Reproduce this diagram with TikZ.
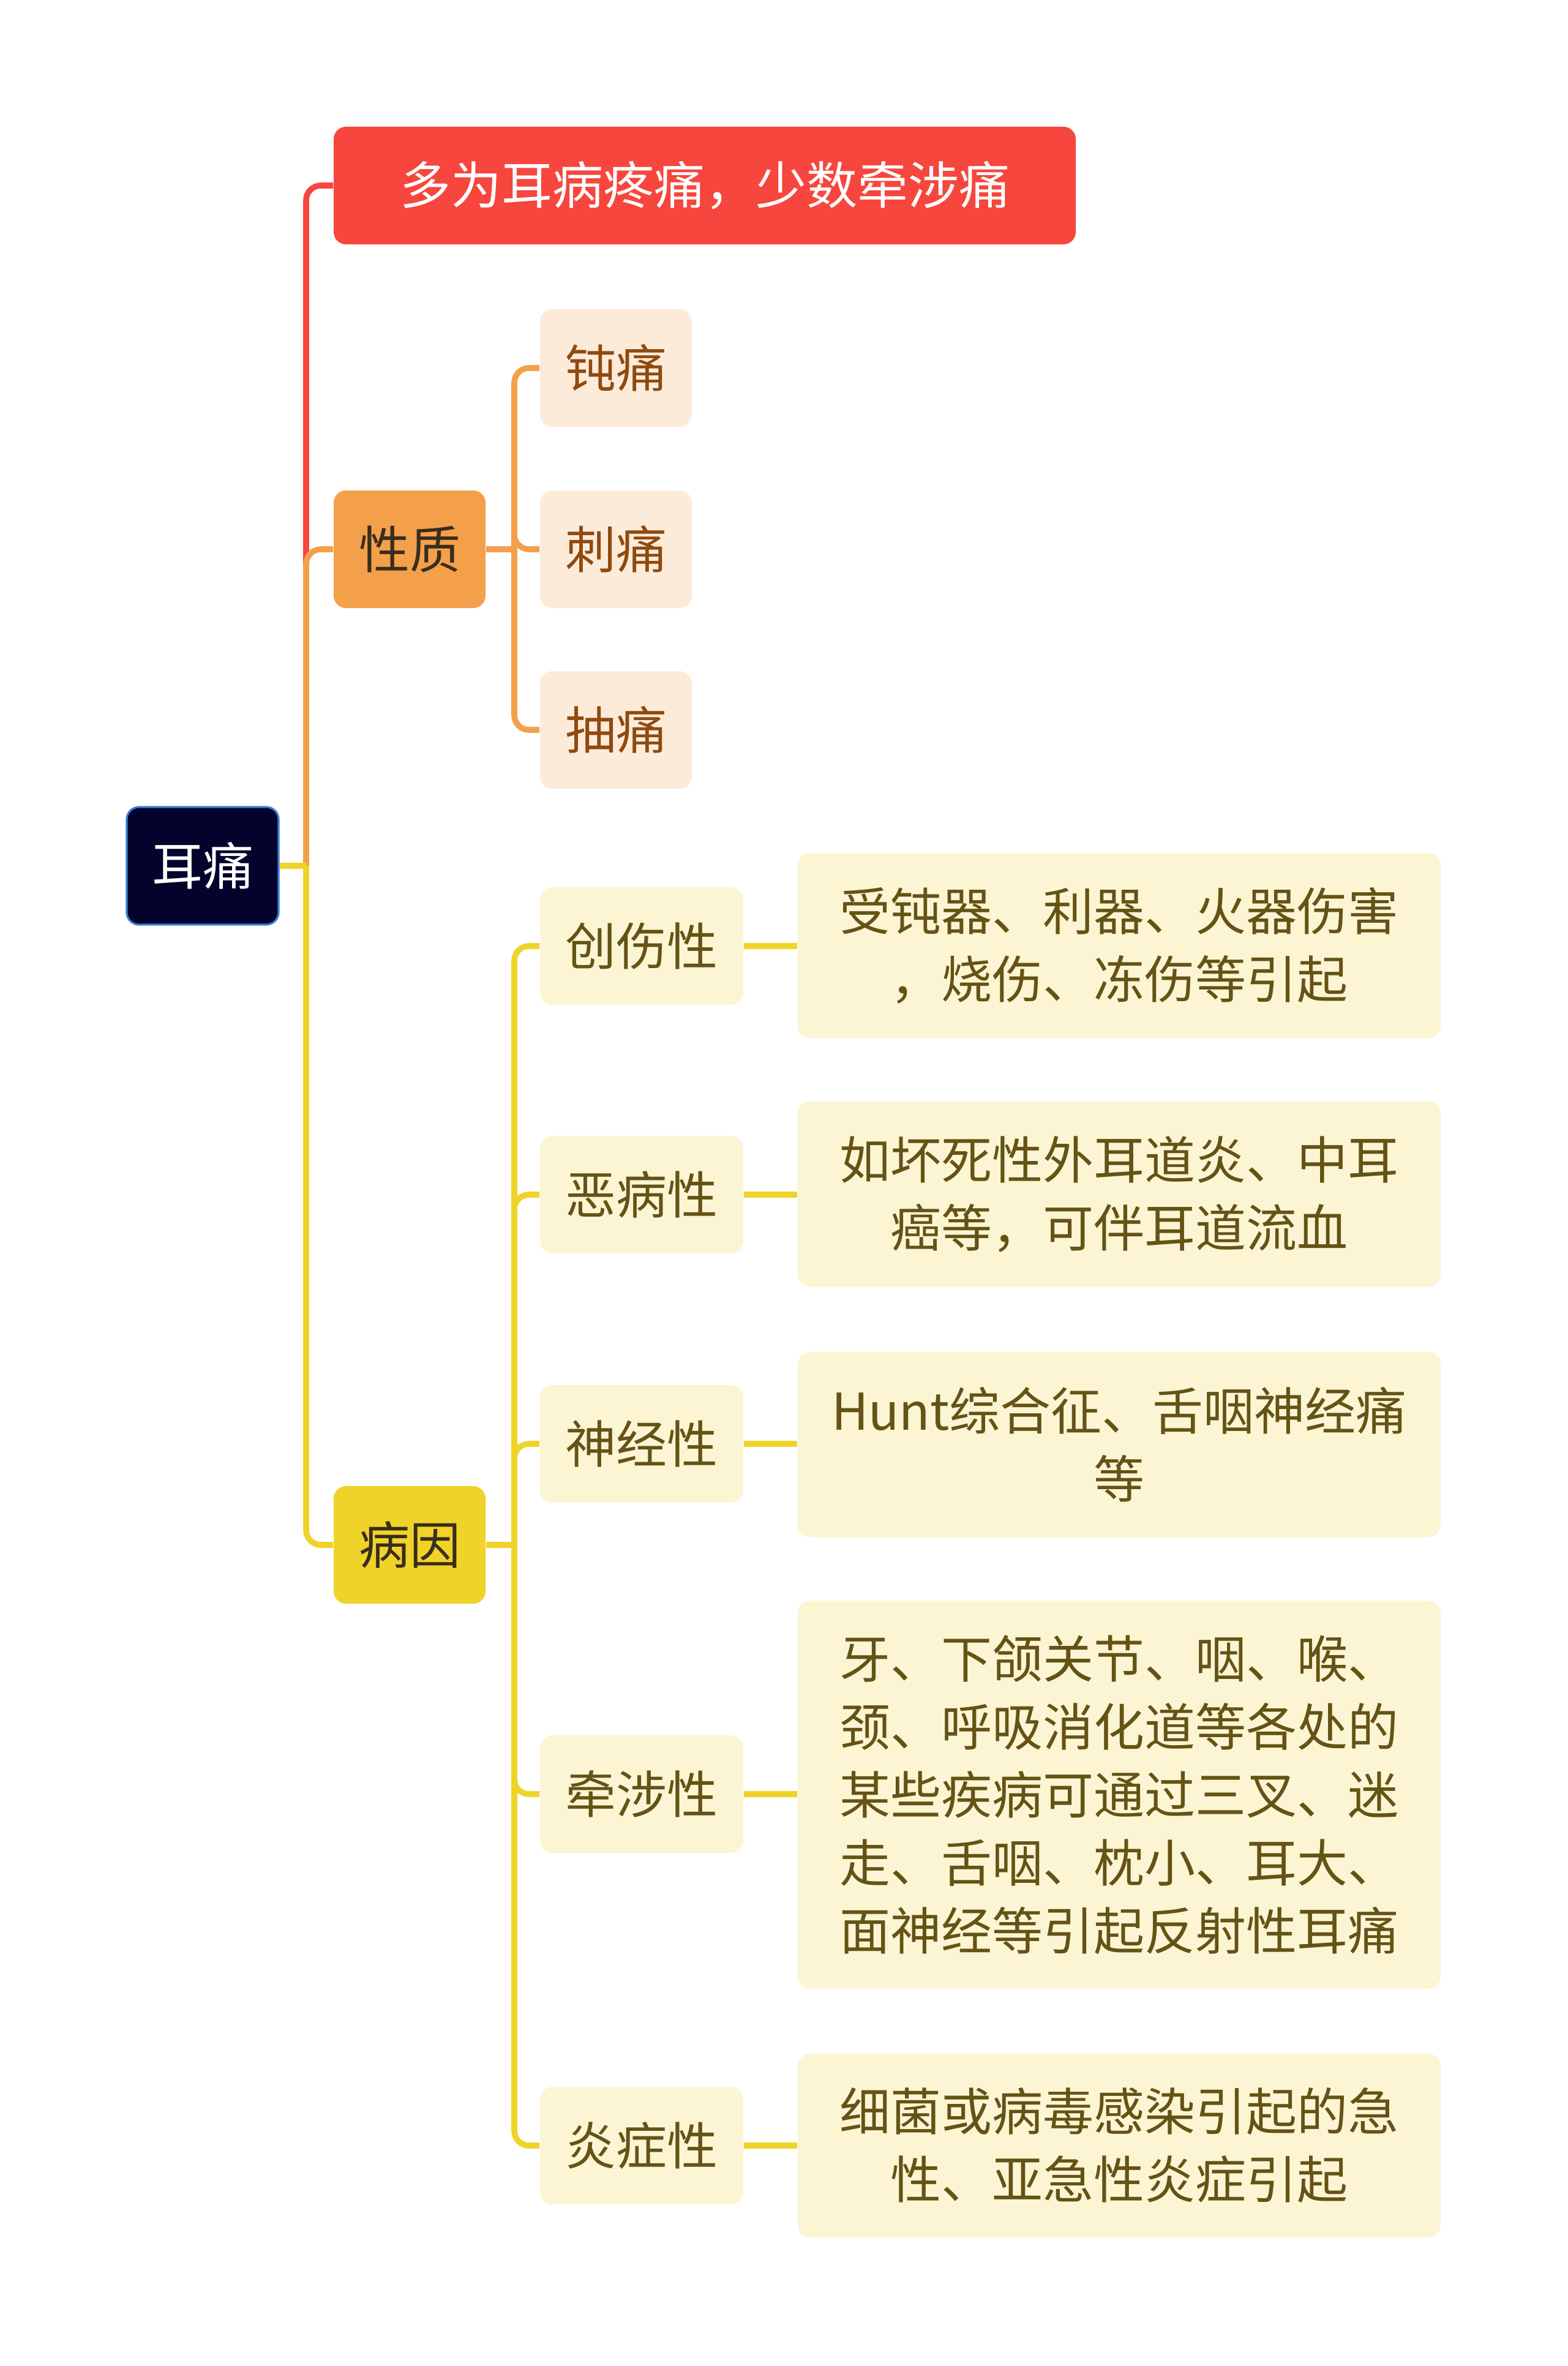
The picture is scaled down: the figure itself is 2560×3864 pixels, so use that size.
\documentclass[tikz,border=0pt]{standalone}
\usepackage{fontspec}
\setmainfont{Noto Sans CJK SC}
\usetikzlibrary{positioning,calc}
\definecolor{rootbg}{HTML}{03032B}
\definecolor{rootline}{HTML}{3A7BD5}
\definecolor{topred}{HTML}{F6463D}
\definecolor{orng}{HTML}{F4A04B}
\definecolor{yell}{HTML}{F0D328}
\definecolor{peach}{HTML}{FDEBDA}
\definecolor{cream}{HTML}{FCF5D4}
\definecolor{brownink}{HTML}{8F4A0E}
\definecolor{oliveink}{HTML}{645315}
\definecolor{darkink}{HTML}{3A2D1C}
\tikzset{
  box/.style={rectangle,rounded corners=5pt,align=center,inner sep=0pt,
    minimum height=48pt,font=\fontsize{20.75pt}{27.75pt}\selectfont},
  rootbox/.style={box,fill=rootbg,draw=rootline,line width=0.8pt,
    minimum width=62pt,text=white},
  topbox/.style={box,fill=topred,minimum width=303pt,text=white},
  xzbox/.style={box,fill=orng,minimum width=62pt,text=darkink},
  bybox/.style={box,fill=yell,minimum width=62pt,text=darkink},
  painbox/.style={box,fill=peach,minimum width=62pt,text=brownink},
  causebox/.style={box,fill=cream,minimum width=83pt,text=oliveink},
  notebox/.style={box,fill=cream,minimum width=262.5pt,text=oliveink},
  lnred/.style={draw=topred,line width=2.4pt},
  lnorg/.style={draw=orng,line width=2.4pt},
  lnyel/.style={draw=yell,line width=2.4pt},
}

\begin{document}
\begin{tikzpicture}[x=0.25pt,y=-0.25pt]
  \useasboundingbox (0,0) rectangle (2560,3864);
  % main branches
  \node[rootbox] (root) at (331,1414) {耳痛};
  \node[topbox] (top) at (1151,303) {多为耳病疼痛，少数牵涉痛};
  \node[xzbox] (xz) at (669,897) {性质};
  \node[bybox] (by) at (669,2523) {病因};
  % kinds of pain
  \node[painbox] (dun) at (1006,601) {钝痛};
  \node[painbox] (ci) at (1006,897) {刺痛};
  \node[painbox] (chou) at (1006,1192) {抽痛};
  % causes
  \node[causebox] (cs) at (1048,1545) {创伤性};
  \node[causebox] (eb) at (1048,1951) {恶病性};
  \node[causebox] (sj) at (1048,2358) {神经性};
  \node[causebox] (qs) at (1048,2930) {牵涉性};
  \node[causebox] (yz) at (1048,3504) {炎症性};
  \node[notebox,minimum height=75.75pt] (csd) at (1828,1544) {受钝器、利器、火器伤害\\，烧伤、冻伤等引起};
  \node[notebox,minimum height=75.75pt] (ebd) at (1828,1950) {如坏死性外耳道炎、中耳\\癌等，可伴耳道流血};
  \node[notebox,minimum height=75.75pt] (sjd) at (1828,2359) {Hunt综合征、舌咽神经痛\\等};
  \node[notebox,minimum height=158.5pt] (qsd) at (1828,2931) {牙、下颌关节、咽、喉、\\颈、呼吸消化道等各处的\\某些疾病可通过三叉、迷\\走、舌咽、枕小、耳大、\\面神经等引起反射性耳痛};
  \node[notebox,minimum height=75pt] (yzd) at (1828,3504) {细菌或病毒感染引起的急\\性、亚急性炎症引起};
  % connectors
  \coordinate (trunk) at (500,1414);
  \coordinate (xzt) at (840,897);
  \coordinate (byt) at (840,2523);
  \draw[lnred] (root.east) -- (trunk);
  \draw[lnred,rounded corners=6pt] (trunk) |- (top.west);
  \draw[lnorg] (root.east) -- (trunk);
  \draw[lnorg,rounded corners=6pt] (trunk) |- (xz.west);
  \draw[lnyel] (root.east) -- (trunk);
  \draw[lnyel,rounded corners=6pt] (trunk) |- (by.west);
  \draw[lnorg] (xz.east) -- (xzt);
  \foreach \p in {dun,ci,chou} \draw[lnorg,rounded corners=6pt] (xzt) |- (\p.west);
  \draw[lnyel] (by.east) -- (byt);
  \foreach \c in {cs,eb,sj,qs,yz} {
    \draw[lnyel,rounded corners=6pt] (byt) |- (\c.west);
    \draw[lnyel] (\c.east) -- (\c.east -| \c d.west);
  }
\end{tikzpicture}
\end{document}
